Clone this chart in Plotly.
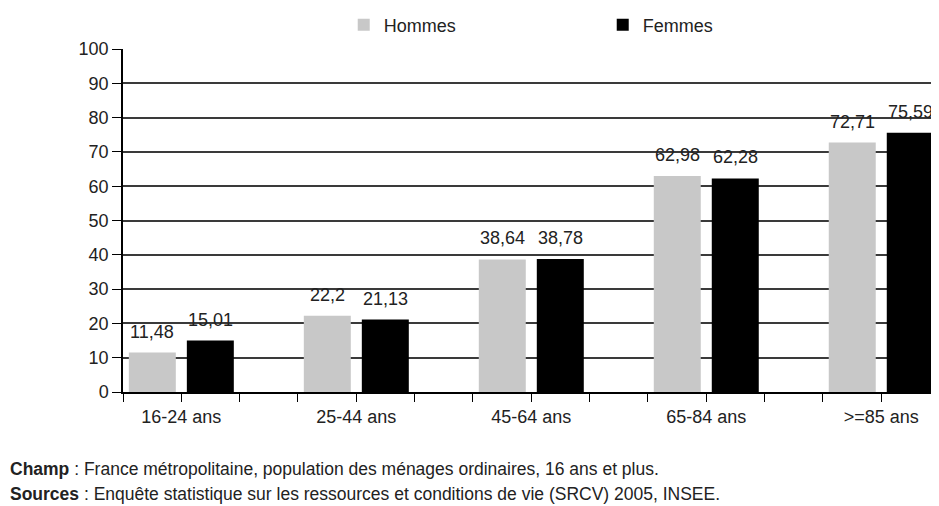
import plotly.graph_objects as go

# ---------------------------------------------------------------------------
# data
# ---------------------------------------------------------------------------
age_groups = ["16-24 ans", "25-44 ans", "45-64 ans", "65-84 ans", ">=85 ans"]
hommes = [11.48, 22.2, 38.64, 62.98, 72.71]
femmes = [15.01, 21.13, 38.78, 62.28, 75.59]

FONT = "Liberation Sans Narrow, Arial Narrow, Liberation Sans, Arial, sans-serif"
pos = list(range(len(age_groups)))


def fr(v):
    return str(v).replace(".", ",")


fig = go.Figure()
fig.add_trace(go.Bar(name="Hommes", x=pos, y=hommes,
                     marker=dict(color="#c8c8c8", line_width=0)))
fig.add_trace(go.Bar(name="Femmes", x=pos, y=femmes,
                     marker=dict(color="#000000", line_width=0)))

# value labels, sitting a bit higher above the bars than plotly's own text
for vals, shift in ((hommes, -29), (femmes, 29)):
    for i, v in zip(pos, vals):
        fig.add_annotation(x=i, y=v, xref="x", yref="y", text=fr(v),
                           showarrow=False, xshift=shift, yshift=9,
                           yanchor="bottom", font=dict(size=18, color="#222"))

# page body adds an 8px offset, so the figure is laid out 8px up/left
fig.update_layout(
    width=931, height=498,
    margin=dict(l=115, r=0, t=41, b=114, autoexpand=False),
    paper_bgcolor="white", plot_bgcolor="white",
    font=dict(family=FONT, size=18, color="#222"),
    barmode="group", bargap=0.337, bargroupgap=0.19,
    showlegend=True,
    legend=dict(orientation="h", x=0.2705, xanchor="left", y=1.07, yref="paper",
                yanchor="middle", entrywidth=214, font=dict(size=18),
                bgcolor="rgba(0,0,0,0)", itemclick=False),
)

fig.update_xaxes(
    range=[-1 / 3, 4.33],
    tickvals=pos, ticktext=age_groups,
    ticks="outside", ticklen=8, tickcolor="#000", tickwidth=1,
    minor=dict(dtick=1 / 3, tick0=-1 / 3, ticks="outside", ticklen=8,
               tickcolor="#000", tickwidth=1, showgrid=False),
    showgrid=False, showline=True, linecolor="#000", linewidth=1.5,
    zeroline=False, fixedrange=True, automargin=False,
)
fig.update_yaxes(
    range=[0, 100], dtick=10, tick0=0,
    ticks="outside", ticklen=9, tickcolor="#000", tickwidth=1,
    showgrid=True, gridcolor="#3a3a3a", gridwidth=1.5,
    showline=True, linecolor="#000", linewidth=1.5,
    zeroline=False, fixedrange=True, automargin=False,
)

fig.add_annotation(
    xref="paper", yref="paper", x=-115 / 816, y=-0.2245, xanchor="left", yanchor="middle",
    text="<b>Champ</b> : France métropolitaine, population des ménages ordinaires, 16 ans et plus.",
    showarrow=False, font=dict(size=17.5, color="#222"),
)
fig.add_annotation(
    xref="paper", yref="paper", x=-115 / 816, y=-0.297, xanchor="left", yanchor="middle",
    text="<b>Sources</b> : Enquête statistique sur les ressources et conditions de vie (SRCV) 2005, INSEE.",
    showarrow=False, font=dict(size=17.5, color="#222"),
)

fig.write_html("out.html")
